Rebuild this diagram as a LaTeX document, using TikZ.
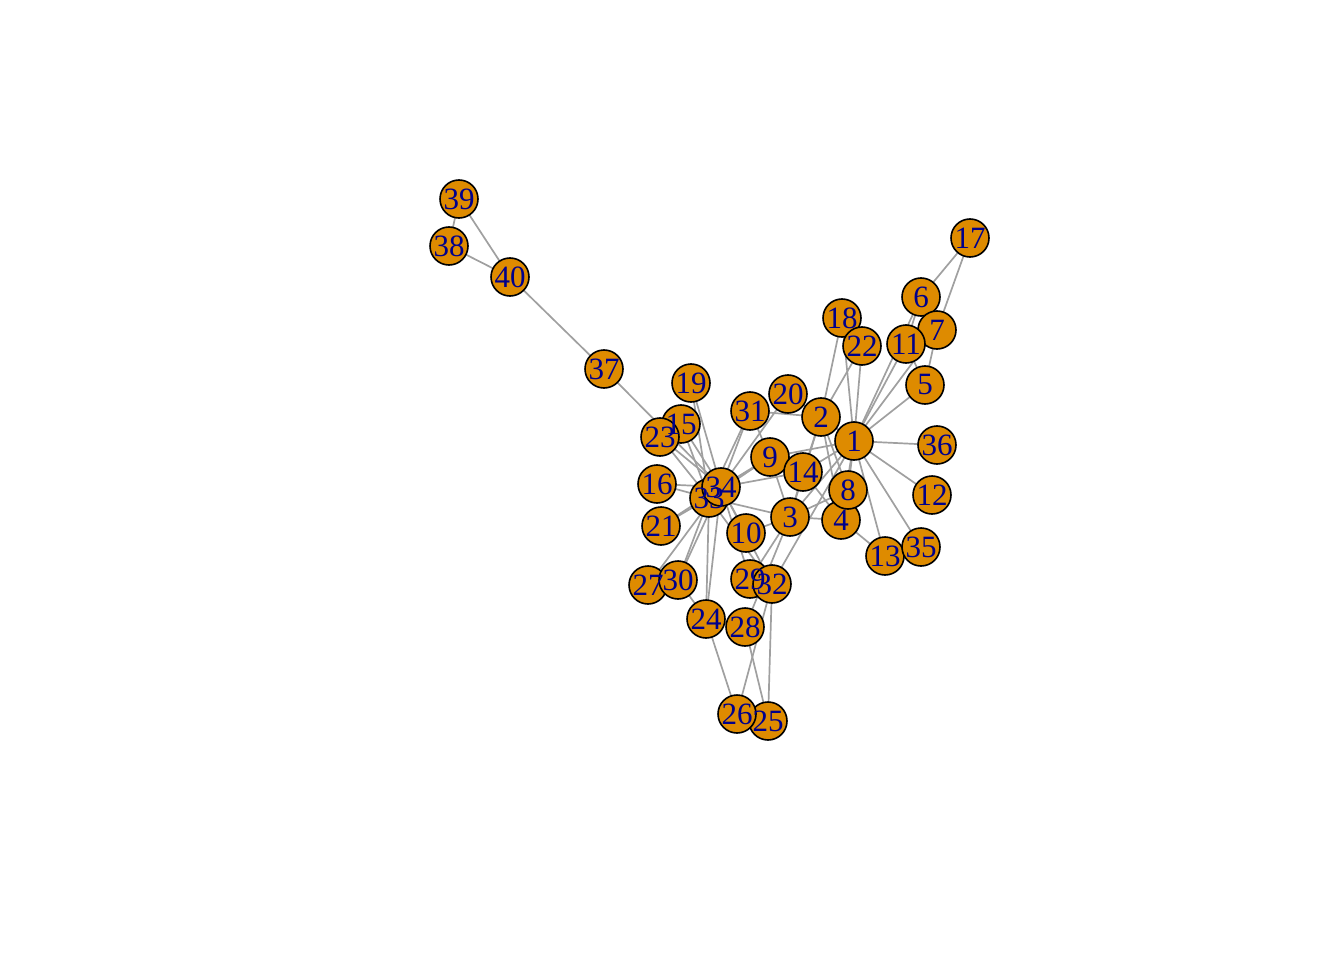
\documentclass[tikz,border=0pt]{standalone}
\usepackage{fontspec}
\setmainfont{Liberation Serif}
\definecolor{vfill}{RGB}{222,139,0}
\definecolor{vlab}{RGB}{0,0,139}
\definecolor{ecol}{RGB}{160,160,160}
\begin{document}
\begin{tikzpicture}[x=1pt,y=-1pt,
  vert/.style={circle,draw=black,fill=vfill,line width=1.6pt,minimum size=38pt,inner sep=0pt},
  vlabel/.style={text=vlab,font=\fontsize{31}{31}\selectfont,inner sep=0pt},
  edge/.style={draw=ecol,line width=1.7pt}]
\useasboundingbox (0,0) rectangle (1344,960);
\foreach \n/\x/\y in {1/854/441,2/821/417,3/790/517,4/841/520,5/925/385,6/921/297,7/937/330,8/848/490,9/770/457,10/746/533,11/906/344,12/932/495,13/885/556,14/803/472,15/681/424,16/657/484,17/970/238,18/842/318,19/691/383,20/788/394,21/661/526,22/862/346,23/660/437,24/706/619,25/768/721,26/737/714,27/648/585,28/745/627,29/750/579,30/678/580,31/750/411,32/772/584,33/709/498,34/721/487,35/921/547,36/937/445,37/604/369,38/449/246,39/459/199,40/510/277}
  \coordinate (c\n) at (\x,\y);
\foreach \a/\b in {1/2,1/3,1/4,1/5,1/6,1/7,1/8,1/9,1/11,1/12,1/13,1/14,1/18,1/20,1/22,1/32,
  2/3,2/4,2/8,2/14,2/18,2/20,2/22,2/31,
  3/4,3/8,3/9,3/10,3/14,3/28,3/29,3/33,
  4/8,4/13,4/14,5/7,5/11,6/7,6/11,6/17,7/17,
  9/31,9/33,9/34,10/34,14/34,15/33,15/34,16/33,16/34,19/33,19/34,20/34,21/33,21/34,23/33,23/34,
  24/26,24/28,24/30,24/33,24/34,25/26,25/28,25/32,26/32,27/30,27/34,29/32,29/34,30/33,30/34,
  31/33,31/34,32/33,32/34,33/34,1/35,1/36,37/34,37/40,38/39,38/40,39/40}
  \draw[edge] (c\a) -- (c\b);
\foreach \n in {1,...,40}
  \node[vert] (v\n) at (c\n) {};
\foreach \n in {1,...,40}
  \node[vlabel] (l\n) at (v\n) {\n};
\end{tikzpicture}
\end{document}
